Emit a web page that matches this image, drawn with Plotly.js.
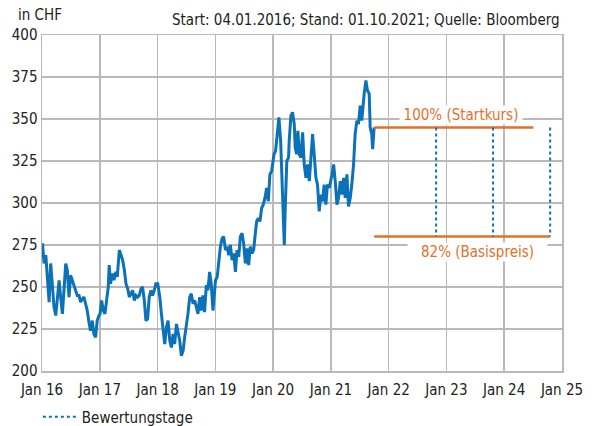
<!DOCTYPE html>
<html>
<head>
<meta charset="utf-8">
<script src="https://cdn.plot.ly/plotly-3.0.1.min.js"></script>
<style>html,body{margin:0;padding:0;background:#fff;}#chart{width:592px;height:426px;}</style>
</head>
<body>
<div id="chart"></div>
<script>
// Price series (CHF)
const dates = [
"2016-01-04","2016-01-14","2016-01-25","2016-02-04","2016-02-15","2016-02-25","2016-03-07","2016-03-17","2016-03-28","2016-04-07",
"2016-04-18","2016-04-28","2016-05-09","2016-05-19","2016-05-30","2016-06-09","2016-06-20","2016-06-30","2016-07-11","2016-07-21",
"2016-08-01","2016-08-11","2016-08-22","2016-09-01","2016-09-12","2016-09-22","2016-10-03","2016-10-13","2016-10-24","2016-11-03",
"2016-11-14","2016-11-24","2016-12-05","2016-12-15","2016-12-26",
"2017-01-02","2017-01-12","2017-01-23","2017-02-02","2017-02-13","2017-02-23","2017-03-01","2017-03-09","2017-03-22","2017-03-31",
"2017-04-12","2017-04-21","2017-05-04","2017-05-12","2017-05-25","2017-06-05","2017-06-15","2017-06-26","2017-07-06","2017-07-17",
"2017-07-27","2017-08-07","2017-08-17","2017-08-28","2017-09-07","2017-09-18","2017-09-28","2017-10-09","2017-10-19","2017-10-30",
"2017-11-09","2017-11-20","2017-11-30","2017-12-11","2017-12-21",
"2018-01-02","2018-01-15","2018-01-25","2018-02-05","2018-02-15","2018-02-26","2018-03-08","2018-03-19","2018-03-29","2018-04-09",
"2018-04-19","2018-04-30","2018-05-10","2018-05-21","2018-05-31","2018-06-11","2018-06-21","2018-07-02","2018-07-12","2018-07-23",
"2018-08-02","2018-08-13","2018-08-23","2018-09-03","2018-09-13","2018-09-24","2018-10-04","2018-10-15","2018-10-25","2018-11-05",
"2018-11-15","2018-11-26","2018-12-06","2018-12-17",
"2019-01-02","2019-01-13","2019-01-23","2019-02-02","2019-02-13","2019-02-23","2019-03-06","2019-03-16","2019-03-27","2019-04-06",
"2019-04-17","2019-04-27","2019-05-08","2019-05-18","2019-05-29","2019-06-08","2019-06-19","2019-06-29","2019-07-10","2019-07-20",
"2019-07-31","2019-08-10","2019-08-21","2019-08-31","2019-09-11","2019-09-19","2019-09-30","2019-10-10","2019-10-21","2019-10-31",
"2019-11-11","2019-11-21","2019-12-02","2019-12-12","2019-12-23",
"2020-01-07","2020-01-17","2020-01-28","2020-02-07","2020-02-18","2020-02-28","2020-03-12","2020-03-18","2020-03-28","2020-04-08",
"2020-04-12","2020-04-23","2020-05-03","2020-05-14","2020-05-20","2020-05-29","2020-06-06","2020-06-15","2020-06-25","2020-07-06",
"2020-07-16","2020-07-27","2020-08-06","2020-08-17","2020-08-27","2020-09-07","2020-09-17","2020-09-28","2020-10-08","2020-10-19",
"2020-10-29","2020-11-09","2020-11-19","2020-11-30","2020-12-10","2020-12-21",
"2021-01-08","2021-01-18","2021-01-28","2021-02-08","2021-02-18","2021-03-01","2021-03-11","2021-03-22","2021-04-01","2021-04-12",
"2021-04-22","2021-05-03","2021-05-13","2021-05-24","2021-06-03","2021-06-14","2021-06-24","2021-07-05","2021-07-15","2021-07-22",
"2021-07-30","2021-08-10","2021-08-20","2021-08-31","2021-09-06","2021-09-16","2021-09-22","2021-10-01"
];
const prices = [
276,264,269,254,241,264,252,238,233,244,
254,244,234,248,264,260,244,257,254,251,
248,245,245,241,243,244,240,236,229,224,
230,222,220,230,233,
234,242,236,234,244,250,263,252,258,254,
259,256,272,270,266,260,252,249,244,246,
248,242,245,244,245,249,250,242,230,231,
244,248,245,248,252,
252,244,234,222,216,226,230,218,214,222,
216,228,222,218,209,212,220,226,234,244,
246,240,242,238,234,244,236,245,235,251,
248,259,252,236,
254,256,266,274,279,280,272,274,269,275,
266,270,259,272,268,280,282,276,264,273,
263,274,270,272,282,289,291,289,297,299,
303,309,301,317,319,
329,331,341,351,337,311,275,297,325,327,
337,352,354,347,333,329,343,329,327,342,
323,315,323,313,327,341,329,315,311,295,
305,301,311,299,311,309,
317,323,313,299,303,313,305,315,303,317,
298,303,311,323,341,349,347,358,349,357,
365,373,367,365,345,341,332,345
];

// Product levels
const startkurs = 345;          // 100% (Startkurs)
const basispreis = 280;         // 82% (Basispreis)
const startDatum = "2021-10-01";
const startkursEnde = "2024-07-04";
const bewertungstage = ["2022-10-28","2023-10-23","2024-10-18"];

// Axis ticks
const tickDates = ["2016-01-01","2017-01-01","2018-01-01","2019-01-01","2020-01-01","2021-01-01","2022-01-01","2023-01-01","2024-01-01","2025-01-01"];
const tickLabels = ["Jan 16","Jan 17","Jan 18","Jan 19","Jan 20","Jan 21","Jan 22","Jan 23","Jan 24","Jan 25"];
const yTicks = [200,225,250,275,300,325,350,375,400];

const BLUE = "#0b72b9";
const ORANGE = "#e2712b";
const GRID = "#b9b9b9";
const FONT = "'Liberation Sans Narrow', 'DejaVu Sans Condensed', 'Roboto', sans-serif";

// vertical dotted lines for valuation days
const vx = [], vy = [];
bewertungstage.forEach(d => { vx.push(d, d, null); vy.push(startkurs, basispreis, null); });

const traces = [
  {x: dates, y: prices, type: "scatter", mode: "lines", line: {color: BLUE, width: 3}, showlegend: false, hoverinfo: "skip"},
  {x: [startDatum, startkursEnde], y: [startkurs, startkurs], type: "scatter", mode: "lines", line: {color: ORANGE, width: 2.5}, showlegend: false},
  {x: [startDatum, bewertungstage[bewertungstage.length-1]], y: [basispreis, basispreis], type: "scatter", mode: "lines", line: {color: ORANGE, width: 2.5}, showlegend: false},
  {x: vx, y: vy, type: "scatter", mode: "lines", name: "Bewertungstage", line: {color: BLUE, width: 2, dash: "dot"}, showlegend: true}
];

const layout = {
  width: 592, height: 426,
  margin: {l: 42, r: 30, t: 35, b: 55, autoexpand: false},
  paper_bgcolor: "#fff", plot_bgcolor: "#fff",
  font: {family: FONT, size: 15, color: "#222"},
  xaxis: {
    type: "date", range: ["2016-01-01", "2025-01-01"],
    tickmode: "array", tickvals: tickDates, ticktext: tickLabels,
    showgrid: true, gridcolor: GRID, gridwidth: 1.5,
    showline: true, linecolor: GRID, linewidth: 1.5, mirror: true,
    ticks: "", zeroline: false, fixedrange: true, automargin: false,
    ticklabelstandoff: 4,
    tickfont: {family: FONT, size: 15, color: "#222"}
  },
  yaxis: {
    range: [200, 400], tickmode: "array", tickvals: yTicks,
    showgrid: true, gridcolor: GRID, gridwidth: 1.5,
    showline: true, linecolor: GRID, linewidth: 1.5, mirror: true,
    ticks: "", zeroline: false, fixedrange: true, automargin: false,
    tickfont: {family: FONT, size: 15, color: "#222"}
  },
  legend: {
    orientation: "h", x: -0.008, y: -0.088, xanchor: "left", yanchor: "top",
    itemwidth: 34,
    font: {family: FONT, size: 15, color: "#222"}, bgcolor: "rgba(0,0,0,0)"
  },
  annotations: [
    {xref: "paper", yref: "paper", x: -0.05, y: 1.06, xanchor: "left", yanchor: "middle", text: "in CHF", showarrow: false, font: {family: FONT, size: 15, color: "#222"}},
    {xref: "paper", yref: "paper", x: 1.0, y: 1.045, xanchor: "right", yanchor: "middle", text: "Start: 04.01.2016; Stand: 01.10.2021; Quelle: Bloomberg", showarrow: false, font: {family: FONT, size: 15, color: "#222"}},
    {xref: "x", yref: "y", x: "2023-04-01", y: 352.5, xanchor: "center", yanchor: "middle", text: "100% (Startkurs)", showarrow: false, bgcolor: "#fff", borderpad: 0, width: 122, height: 18, font: {family: FONT, size: 15, color: ORANGE}},
    {xref: "x", yref: "y", x: "2023-07-15", y: 271, xanchor: "center", yanchor: "middle", text: "82% (Basispreis)", showarrow: false, bgcolor: "#fff", borderpad: 0, width: 139, height: 18, font: {family: FONT, size: 15, color: ORANGE}}
  ]
};

Plotly.newPlot("chart", traces, layout, {displayModeBar: false, staticPlot: true});
</script>
</body>
</html>
